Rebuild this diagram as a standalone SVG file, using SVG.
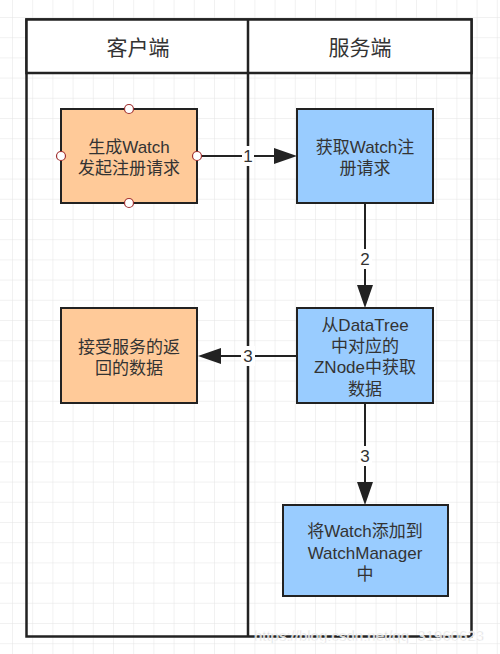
<svg xmlns="http://www.w3.org/2000/svg" width="500" height="654" viewBox="0 0 500 654">
<style>
.lane{fill:none;stroke:#222;stroke-width:2.5}
.box-o{fill:#FFCA99;stroke:#222;stroke-width:2}
.box-b{fill:#99CCFF;stroke:#222;stroke-width:2}
.t{font-family:"Liberation Sans","Noto Sans CJK SC",sans-serif;font-size:17px;fill:#333;text-anchor:middle}
.h{font-family:"Noto Sans CJK SC",sans-serif;font-size:21px;fill:#333;text-anchor:middle}
.edge{fill:none;stroke:#222;stroke-width:2}
.head{fill:#222}
.lbl{font-family:"Liberation Sans",sans-serif;font-size:17px;fill:#333;text-anchor:middle}
.gap{fill:#fff}
.pt{fill:#fff;stroke:#A03030;stroke-width:1.2}
</style>
<defs>
<pattern id="grid" patternUnits="userSpaceOnUse" x="12" y="17" width="20.2" height="20.2">
<path d="M0 0V20.2M0 0H20.2" fill="none" stroke="#e4e4e4" stroke-width="1"/>
</pattern>
</defs>
<rect width="500" height="654" fill="#fff"/>
<rect width="500" height="654" fill="url(#grid)"/>
<g id="lanes">
<rect x="26.5" y="19.5" width="445" height="617" class="lane"/>
<rect x="26.5" y="19.5" width="445" height="53.5" fill="#fff" stroke="#222" stroke-width="2.5"/>
<line x1="248" y1="19.5" x2="248" y2="636.5" class="lane"/>
<text x="138" y="55" class="h">客户端</text>
<text x="360" y="55" class="h">服务端</text>
</g>
<g id="connectors">
<line x1="197" y1="156" x2="280" y2="156" class="edge"/>
<path d="M297 156L274 148V164Z" class="head"/>
<rect x="242" y="146" width="12" height="20" class="gap"/>
<text x="248" y="162" class="lbl">1</text>
<line x1="365" y1="203" x2="365" y2="290" class="edge"/>
<path d="M365 308L357 285H373Z" class="head"/>
<rect x="358" y="249" width="14" height="20" class="gap"/>
<text x="365" y="265" class="lbl">2</text>
<line x1="297" y1="356" x2="215" y2="356" class="edge"/>
<path d="M198 356L221 348V364Z" class="head"/>
<rect x="241" y="346" width="14" height="20" class="gap"/>
<text x="248" y="362" class="lbl">3</text>
<line x1="365" y1="403" x2="365" y2="487" class="edge"/>
<path d="M365 505L357 482H373Z" class="head"/>
<rect x="358" y="446" width="14" height="20" class="gap"/>
<text x="365" y="462" class="lbl">3</text>
</g>
<g id="n1">
<rect x="61" y="109" width="136" height="94" class="box-o"/>
<text x="129" y="153" class="t">生成Watch</text>
<text x="129" y="174" class="t">发起注册请求</text>
<circle cx="129" cy="109" r="4.5" class="pt"/>
<circle cx="129" cy="203" r="4.5" class="pt"/>
<circle cx="61" cy="156" r="4.5" class="pt"/>
<circle cx="197" cy="156" r="4.5" class="pt"/>
</g>
<g id="n2">
<rect x="297" y="109" width="136" height="94" class="box-b"/>
<text x="365" y="153" class="t">获取Watch注</text>
<text x="365" y="174" class="t">册请求</text>
</g>
<g id="n3">
<rect x="297" y="308" width="136" height="95" class="box-b"/>
<text x="365" y="331" class="t">从DataTree</text>
<text x="365" y="352" class="t">中对应的</text>
<text x="365" y="373" class="t">ZNode中获取</text>
<text x="365" y="395" class="t">数据</text>
</g>
<g id="n4">
<rect x="61" y="308" width="136" height="95" class="box-o"/>
<text x="129" y="353" class="t">接受服务的返</text>
<text x="129" y="374" class="t">回的数据</text>
</g>
<g id="n5">
<rect x="283" y="505" width="165" height="91" class="box-b"/>
<text x="365" y="537" class="t">将Watch添加到</text>
<text x="365" y="559" class="t">WatchManager</text>
<text x="365" y="580" class="t">中</text>
</g>
<text x="369" y="641" font-family="Liberation Sans,sans-serif" font-size="15" fill="#cfcfcf" stroke="#fff" stroke-width="0.6" text-anchor="middle" opacity="0.9">https://blog.csdn.net/qq_31960623</text>
</svg>
